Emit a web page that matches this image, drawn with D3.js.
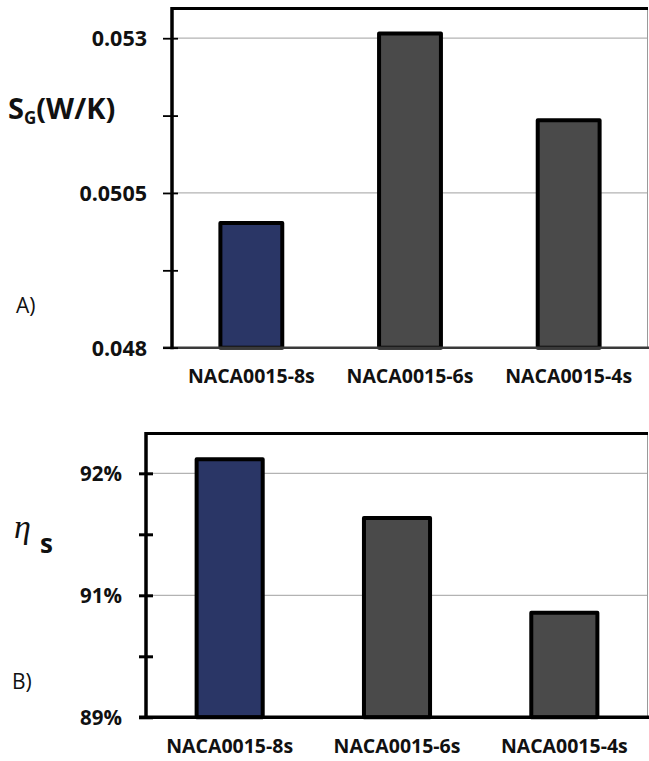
<!DOCTYPE html>
<html>
<head>
<meta charset="utf-8">
<script src="https://cdn.jsdelivr.net/npm/d3@7"></script>
<style>
  html, body { margin: 0; padding: 0; background: #fff; }
  svg { display: block; }
</style>
</head>
<body>
<script>
// ---------- data ----------
const categories = ["NACA0015-8s", "NACA0015-6s", "NACA0015-4s"];
const barColors = ["#2a3666", "#4a4a4a", "#4a4a4a"];

// Panel A: entropy generation S_G (W/K)
const sgValues = [0.050015, 0.053078, 0.051675];
const sgDomain = [0.048, 0.05348];
const sgMajorTicks = [0.048, 0.0505, 0.053];
const sgMinorTicks = [0.04925, 0.05175];

// Panel B: efficiency eta_s
const etaValues = [0.92043, 0.91442, 0.90472];
const etaDomain = [0.894, 0.92308];
const etaMajorTicks = [0.894, 0.9065, 0.919];
const etaMinorTicks = [0.90025, 0.91275];

// ---------- drawing ----------
const W = 649, H = 761;
const svg = d3.select("body").append("svg").attr("width", W).attr("height", H);

function panel(o) {
  const g = svg.append("g");
  const x = d3.scaleBand().domain(categories).range([o.left, o.right])
    .paddingInner(o.pad).paddingOuter(o.pad / 2);
  const y = d3.scaleLinear().domain(o.domain).range([o.bottom, o.top]);

  // gridlines at major ticks (except baseline)
  g.selectAll("line.grid").data(o.major.slice(1)).join("line")
    .attr("class", "grid")
    .attr("x1", o.left).attr("x2", o.right)
    .attr("y1", d => y(d)).attr("y2", d => y(d))
    .attr("stroke", "#b3b3b3").attr("stroke-width", 1.2);

  // bars
  g.selectAll("rect.bar").data(o.values).join("rect")
    .attr("class", "bar")
    .attr("x", (d, i) => x(categories[i]))
    .attr("width", x.bandwidth())
    .attr("y", d => y(d))
    .attr("height", d => y(o.domain[0]) - y(d))
    .attr("fill", (d, i) => barColors[i])
    .attr("stroke", "#000").attr("stroke-width", 4)
    .attr("stroke-linejoin", "round");

  // right frame (thin gray)
  g.append("line").attr("x1", o.right - 0.5).attr("x2", o.right - 0.5)
    .attr("y1", o.top).attr("y2", o.bottom)
    .attr("stroke", "#9a9a9a").attr("stroke-width", 1);
  // top frame
  g.append("line").attr("x1", o.left).attr("x2", o.right)
    .attr("y1", o.top).attr("y2", o.top)
    .attr("stroke", "#000").attr("stroke-width", 3);
  // bottom axis
  g.append("line").attr("x1", o.left - o.tickOut).attr("x2", W)
    .attr("y1", o.bottom).attr("y2", o.bottom)
    .attr("stroke", o.bottomColor).attr("stroke-width", o.bottomWidth);

  // y axis
  const all = o.major.concat(o.minor).sort(d3.ascending);
  const axis = d3.axisLeft(y).tickValues(all)
    .tickSize(o.tickOut)
    .tickFormat(d => o.major.includes(d) ? o.fmt(d) : "");
  const ag = g.append("g").attr("transform", `translate(${o.left},0)`).call(axis);
  ag.select(".domain").remove();
  ag.selectAll(".tick line")
    .attr("x1", o.tickIn).attr("x2", -o.tickOut)
    .attr("stroke", "#000").attr("stroke-width", o.tickWidth);
  ag.selectAll(".tick text")
    .attr("x", -o.labelGap)
    .attr("dy", "0.36em")
    .attr("fill", "#111")
    .style("font-family", "'Open Sans', sans-serif")
    .style("font-weight", "700")
    .style("font-size", o.tickFont + "px");
  // left axis line
  g.append("line").attr("x1", o.left).attr("x2", o.left)
    .attr("y1", o.top - 1.5).attr("y2", o.bottom + 1.5)
    .attr("stroke", "#000").attr("stroke-width", 3.5);

  // category labels
  g.selectAll("text.cat").data(categories).join("text")
    .attr("class", "cat")
    .attr("x", d => x(d) + x.bandwidth() / 2)
    .attr("y", o.catY)
    .attr("text-anchor", "middle")
    .attr("fill", "#111")
    .style("font-family", "'Open Sans', sans-serif")
    .style("font-weight", "700")
    .style("font-size", "19.5px")
    .text(d => d);

  // panel letter
  g.append("text").attr("x", o.letterX).attr("y", o.letterY)
    .attr("fill", "#111")
    .style("font-family", "'Open Sans', sans-serif")
    .style("font-size", "21px")
    .text(o.letter);
  return g;
}

panel({
  left: 172, right: 648, top: 8.5, bottom: 347.7,
  domain: sgDomain, values: sgValues,
  major: sgMajorTicks, minor: sgMinorTicks,
  fmt: d => String(d), pad: 0.61,
  tickOut: 9, tickIn: 6, tickWidth: 1.8, labelGap: 25, tickFont: 21.5,
  bottomColor: "#3a3a3a", bottomWidth: 2.5,
  catY: 383, letter: "A)", letterX: 16, letterY: 313
});

panel({
  left: 146, right: 648, top: 433.5, bottom: 717.3,
  domain: etaDomain, values: etaValues,
  major: etaMajorTicks, minor: etaMinorTicks,
  fmt: d3.format(".0%"), pad: 0.605,
  tickOut: 7, tickIn: 7, tickWidth: 3, labelGap: 24, tickFont: 20.5,
  bottomColor: "#000", bottomWidth: 3.5,
  catY: 753, letter: "B)", letterX: 12, letterY: 689
});

// y-axis titles
const t1 = svg.append("text").attr("x", 8).attr("y", 119)
  .attr("fill", "#111")
  .style("font-family", "'Open Sans', sans-serif")
  .style("font-weight", "700")
  .style("font-size", "29px");
t1.append("tspan").text("S");
t1.append("tspan").attr("dy", 5).style("font-size", "17px").text("G");
t1.append("tspan").attr("dy", -5).text("(W/K)");

const t2 = svg.append("text").attr("x", 14).attr("y", 538)
  .attr("fill", "#111");
t2.append("tspan")
  .style("font-family", "'Liberation Serif', serif")
  .style("font-style", "italic")
  .style("font-size", "34px")
  .text("η");
t2.append("tspan").attr("dx", 9).attr("dy", 15)
  .style("font-family", "'Open Sans', sans-serif")
  .style("font-weight", "700")
  .style("font-size", "26px")
  .text("s");
</script>
</body>
</html>
